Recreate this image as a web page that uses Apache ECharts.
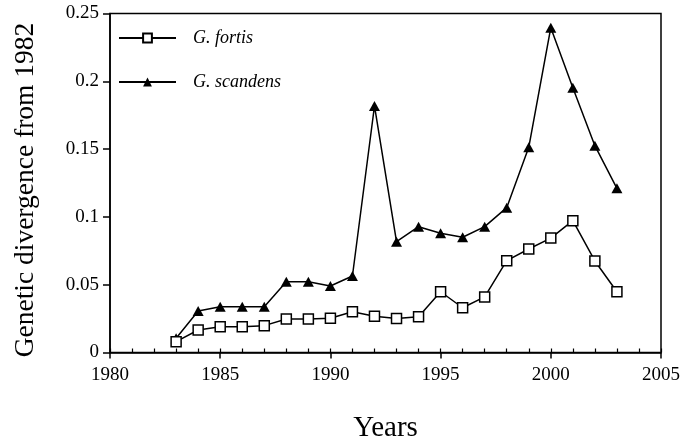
<!DOCTYPE html>
<html>
<head>
<meta charset="utf-8">
<script src="https://cdn.jsdelivr.net/npm/echarts@6/dist/echarts.min.js"></script>
<style>html,body{margin:0;padding:0;background:#fff;}#c{width:682px;height:438px;}</style>
</head>
<body>
<div id="c"></div>
<script>
const years = [1983,1984,1985,1986,1987,1988,1989,1990,1991,1992,1993,1994,1995,1996,1997,1998,1999,2000,2001,2002,2003];
const fortis = [0.008,0.0166,0.019,0.019,0.0198,0.0247,0.0247,0.0252,0.030,0.0267,0.025,0.0264,0.0448,0.033,0.041,0.0677,0.0763,0.0844,0.0972,0.0675,0.0448];
const scandens = [0.0105,0.0306,0.0338,0.0338,0.0338,0.0522,0.0522,0.049,0.0564,0.1818,0.0817,0.0928,0.0879,0.085,0.0928,0.1068,0.1513,0.2395,0.1953,0.1525,0.1211];
const seriesNames = ['G. fortis','G. scandens'];
const xTicks = [1980,1985,1990,1995,2000,2005];
const yTicks = [0,0.05,0.1,0.15,0.2,0.25];
const xTitle = 'Years';
const yTitle = 'Genetic divergence from 1982';

const font = '"Liberation Serif", "DejaVu Serif", serif';
const chart = echarts.init(document.getElementById('c'));
chart.setOption({
  animation:false,
  backgroundColor:'#fff',
  grid:{left:110,right:21,top:13.5,bottom:85.5,containLabel:false,outerBoundsMode:'none',show:true,borderColor:'#000',borderWidth:1.5,backgroundColor:'transparent'},
  legend:{
    orient:'vertical',left:113,top:24,itemGap:26,itemWidth:57,itemHeight:11,
    data:seriesNames,
    textStyle:{fontFamily:font,fontStyle:'italic',fontSize:18,color:'#000',padding:[0,0,0,12]}
  },
  graphic:[{
    type:'text',x:26,y:190,rotation:Math.PI/2,
    style:{text:yTitle,fontFamily:font,fontSize:27.5,fill:'#000',align:'center',verticalAlign:'middle'}
  }],
  xAxis:[{
    type:'value',min:xTicks[0],max:xTicks[xTicks.length-1],interval:5,
    name:xTitle,nameLocation:'middle',nameGap:61,
    nameTextStyle:{fontFamily:font,fontSize:29,color:'#000'},
    axisLine:{show:true,lineStyle:{color:'#000',width:1.5}},
    axisTick:{show:true,inside:false,length:6,lineStyle:{color:'#000',width:1.5}},
    axisLabel:{fontFamily:font,fontSize:19,color:'#000',margin:13,formatter:v=>String(v)},
    splitLine:{show:false}
  },{
    type:'value',min:xTicks[0],max:xTicks[xTicks.length-1],interval:1,position:'bottom',
    axisLine:{show:false},
    axisTick:{show:true,inside:true,length:4,lineStyle:{color:'#000',width:1.2}},
    axisLabel:{show:false},splitLine:{show:false}
  }],
  yAxis:{
    type:'value',min:yTicks[0],max:yTicks[yTicks.length-1],interval:0.05,
    axisLine:{show:true,lineStyle:{color:'#000',width:1.5}},
    axisTick:{show:true,inside:false,length:7,lineStyle:{color:'#000',width:1.5}},
    axisLabel:{fontFamily:font,fontSize:19,color:'#000',margin:11},
    splitLine:{show:false}
  },
  series:[{
    name:seriesNames[0],type:'line',xAxisIndex:0,
    data:years.map((y,i)=>[y,fortis[i]]),
    symbol:'rect',symbolSize:10,z:3,
    lineStyle:{color:'#000',width:1.5},
    itemStyle:{color:'#fff',borderColor:'#000',borderWidth:1.5}
  },{
    name:seriesNames[1],type:'line',xAxisIndex:0,
    data:years.map((y,i)=>[y,scandens[i]]),
    symbol:'triangle',symbolSize:[11,10],z:2,
    lineStyle:{color:'#000',width:1.5},
    itemStyle:{color:'#000',borderColor:'#000',borderWidth:0}
  }]
});
</script>
</body>
</html>
